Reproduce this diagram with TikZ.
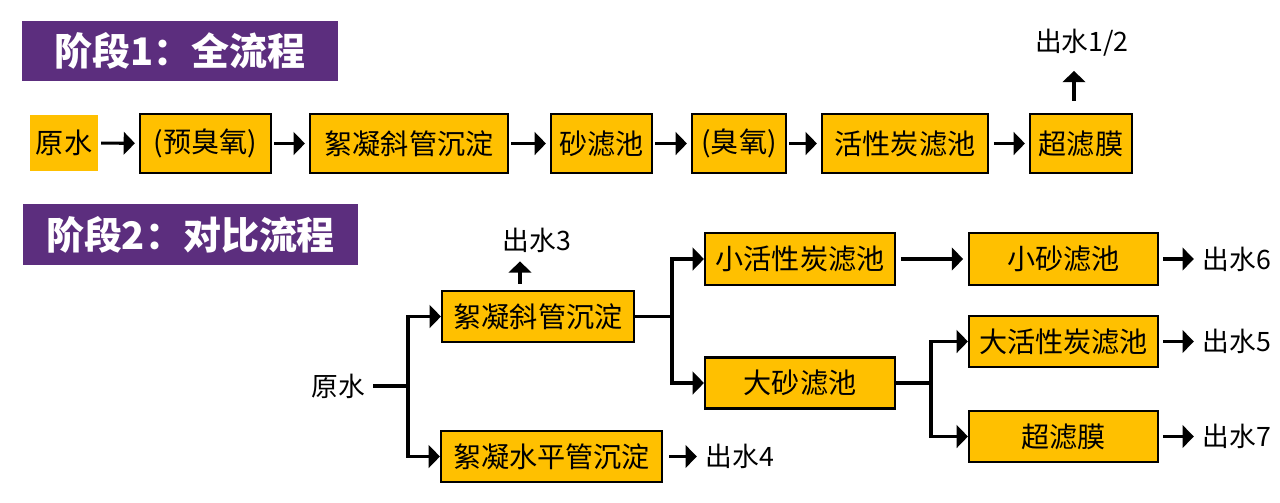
\documentclass[tikz,border=0pt]{standalone}
\usepackage{fontspec}
\setmainfont{Noto Sans CJK SC}
\usetikzlibrary{arrows.meta}
\definecolor{boxgold}{RGB}{255,192,0}
\definecolor{stagepurple}{RGB}{92,46,126}
\tikzset{
    proc/.style={draw, fill=boxgold, line width=1.5pt, inner sep=0pt, minimum height=1.475cm, font=\fontsize{20}{24}\selectfont},
    stagetitle/.style={fill=stagepurple, text=white, inner sep=0pt, font=\fontsize{27}{32}\selectfont\bfseries},
    lab/.style={inner sep=0pt, font=\fontsize{19}{23}\selectfont},
    flow/.style={line width=2.2pt},
    arr/.style={flow, -{Triangle[length=0.28cm,width=0.56cm]}},
}
\begin{document}
\begin{tikzpicture}[x=0.025cm, y=-0.025cm]
    \useasboundingbox (0,0) rectangle (1280,502);

    % Stage 1
    \node[stagetitle, minimum width=7.9cm, minimum height=1.5cm] (t1) at (180,51) {阶段1：全流程};
    \node[proc, draw=none, minimum width=1.7cm, minimum height=1.4cm] (raw1) at (64,143) {原水};
    \node[proc, minimum width=3.275cm] (preoz) at (205.5,143.5) {(预臭氧)};
    \node[proc, minimum width=4.95cm] (floc1) at (409,143.5) {絮凝斜管沉淀};
    \node[proc, minimum width=2.525cm] (sand1) at (601.5,143.5) {砂滤池};
    \node[proc, minimum width=2.35cm] (oz) at (739,143.5) {(臭氧)};
    \node[proc, minimum width=4.15cm] (bac1) at (905,143.5) {活性炭滤池};
    \node[proc, minimum width=2.55cm] (uf1) at (1081,143.5) {超滤膜};
    \node[lab] (out12) at (1082,43) {出水1/2};

    \draw[arr, shorten <=0.05cm, shorten >=0.1cm] (raw1) -- (preoz);
    \draw[arr, shorten <=0.05cm, shorten >=0.1cm] (preoz) -- (floc1);
    \draw[arr, shorten <=0.05cm, shorten >=0.1cm] (floc1) -- (sand1);
    \draw[arr, shorten <=0.05cm, shorten >=0.1cm] (sand1) -- (oz);
    \draw[arr, shorten <=0.05cm, shorten >=0.1cm] (oz) -- (bac1);
    \draw[arr, shorten <=0.12cm, shorten >=0.1cm] (bac1) -- (uf1);
    \draw[arr, shorten <=0.3cm, shorten >=0.35cm] ([xshift=-0.175cm]uf1.north) -- ([xshift=-0.175cm]uf1.north |- out12.south);

    % Stage 2
    \node[stagetitle, minimum width=8.375cm, minimum height=1.525cm] (t2) at (190.5,234.5) {阶段2：对比流程};
    \node[lab] (raw2) at (338,386) {原水};
    \node[proc, minimum width=4.8cm, minimum height=1.275cm] (floc2) at (538,316.5) {絮凝斜管沉淀};
    \node[proc, minimum width=5.525cm, minimum height=1.275cm] (hfloc) at (551.5,456.5) {絮凝水平管沉淀};
    \node[proc, minimum width=4.75cm, minimum height=1.3cm] (sbac) at (800,259) {小活性炭滤池};
    \node[proc, minimum width=4.75cm, minimum height=1.275cm] (bsand) at (800,383) {大砂滤池};
    \node[proc, minimum width=4.725cm, minimum height=1.3cm] (ssand) at (1063.5,259) {小砂滤池};
    \node[proc, minimum width=4.725cm, minimum height=1.275cm] (bbac) at (1063.5,341.5) {大活性炭滤池};
    \node[proc, minimum width=4.725cm, minimum height=1.275cm] (uf2) at (1063.5,436.5) {超滤膜};

    \node[lab] (out3) at (537,240) {出水3};
    \node[lab] (out4) at (740,456.5) {出水4};
    \node[lab] (out6) at (1237,259) {出水6};
    \node[lab] (out5) at (1237,341.5) {出水5};
    \node[lab] (out7) at (1237,436.5) {出水7};

    % Branches
    \coordinate (j1) at (408,386);
    \coordinate (j2) at (672,316.5);
    \coordinate (j3) at (931,383);
    \draw[flow, shorten <=0.2cm] (raw2) -- (j1);
    \draw[arr] (j1) |- (floc2);
    \draw[arr] (j1) |- (hfloc);
    \draw[flow] (floc2) -- (j2);
    \draw[arr] (j2) |- (sbac);
    \draw[arr] (j2) |- (bsand);
    \draw[flow] (bsand) -- (j3);
    \draw[arr] (j3) |- (bbac);
    \draw[arr] (j3) |- (uf2);
    \draw[arr, shorten <=0.12cm, shorten >=0.12cm] (sbac) -- (ssand);

    % Outlets
    \draw[arr, shorten <=0.15cm, shorten >=0.22cm] ([xshift=-0.45cm]floc2.north) -- ([xshift=-0.45cm]floc2.north |- out3.south);
    \draw[arr, shorten <=0.15cm, shorten >=0.22cm] (hfloc) -- (out4);
    \draw[arr, shorten <=0.1cm, shorten >=0.22cm] (ssand) -- (out6);
    \draw[arr, shorten <=0.1cm, shorten >=0.22cm] (bbac) -- (out5);
    \draw[arr, shorten <=0.1cm, shorten >=0.22cm] (uf2) -- (out7);

\end{tikzpicture}
\end{document}
